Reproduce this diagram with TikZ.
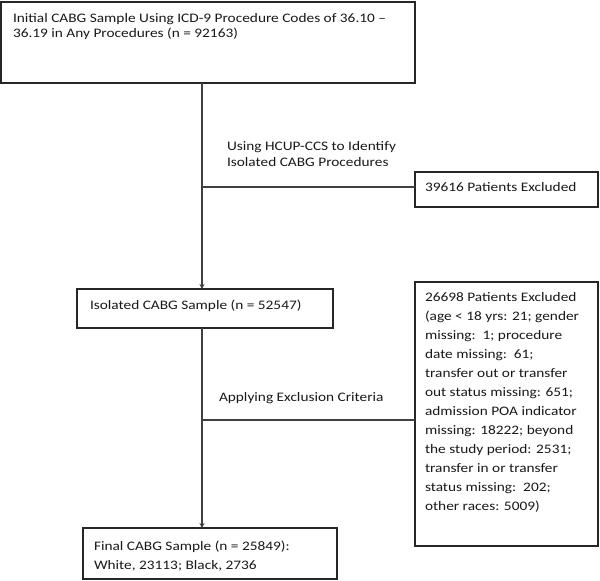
\documentclass[tikz,border=0pt]{standalone}
\usepackage{fontspec}
\setmainfont{Carlito}[FakeStretch=1.18]
\usetikzlibrary{arrows.meta}
\tikzset{
  frame/.style={draw=black!85, line width=1.2pt, inner sep=0pt, outer sep=0pt, rectangle, fill=white},
  txt/.style={inner sep=0pt, outer sep=0pt, align=left, anchor=base west, text=black!90},
  conn/.style={draw=black!75, line width=1.2pt},
  arr/.style={conn, -{Stealth[length=5pt,width=5pt]}}
}
\begin{document}
\begin{tikzpicture}[x=1pt,y=-1pt]
\useasboundingbox[fill=white] (0,0) rectangle (600,581);
% boxes
\node[frame, minimum width=414pt, minimum height=81pt] (init) at (208,42.5) {};
\node[frame, minimum width=183pt, minimum height=35pt] (ex1) at (506.5,189.5) {};
\node[frame, minimum width=256pt, minimum height=39pt] (iso) at (205,308.5) {};
\node[frame, minimum width=183pt, minimum height=264pt] (ex2) at (506.5,414) {};
\node[frame, minimum width=254pt, minimum height=51pt] (final) at (210,553.5) {};
% texts (base anchor = baseline of last line)
\node[txt, font=\fontsize{13}{15.7}\selectfont] (tinit) at (13,37.7) {Initial CABG Sample Using ICD-9 Procedure Codes of 36.10 –\\36.19 in Any Procedures (n = 92163)};
\node[txt, font=\fontsize{13}{18}\selectfont] (tex1) at (425,191) {39616 Patients Excluded};
\node[txt, font=\fontsize{13}{18}\selectfont] (tiso) at (90,309) {Isolated CABG Sample (n = 52547)};
\node[txt, font=\fontsize{13}{19}\selectfont] (tex2) at (425,510) {26698 Patients Excluded\\(age < 18 yrs: 21; gender\\missing:\ \ 1; procedure\\date missing:\ \ 61;\\transfer out or transfer\\out status missing: 651;\\admission POA indicator\\missing: 18222; beyond\\the study period: 2531;\\transfer in or transfer\\status missing:\ \ 202;\\other races: 5009)};
\node[txt, font=\fontsize{13}{19}\selectfont] (tfinal) at (94,569) {Final CABG Sample (n = 25849):\\White, 23113; Black, 2736};
\node[txt, font=\fontsize{13}{16}\selectfont] (lab1) at (227,166.7) {Using HCUP-CCS to Identify\\Isolated CABG Procedures};
\node[txt, font=\fontsize{13}{16}\selectfont] (lab2) at (219,401) {Applying Exclusion Criteria};
% connectors
\coordinate (spine) at (202,0);
\coordinate (j1) at ([yshift=2.5pt]ex1.west);
\coordinate (j2) at ([yshift=-6pt]ex2.west);
\draw[arr] (init.south -| spine) -- (iso.north -| spine);
\draw[arr] (iso.south -| spine) -- (final.north -| spine);
\draw[conn] (spine |- j1) -- (j1);
\draw[conn] (spine |- j2) -- (j2);
\end{tikzpicture}
\end{document}
